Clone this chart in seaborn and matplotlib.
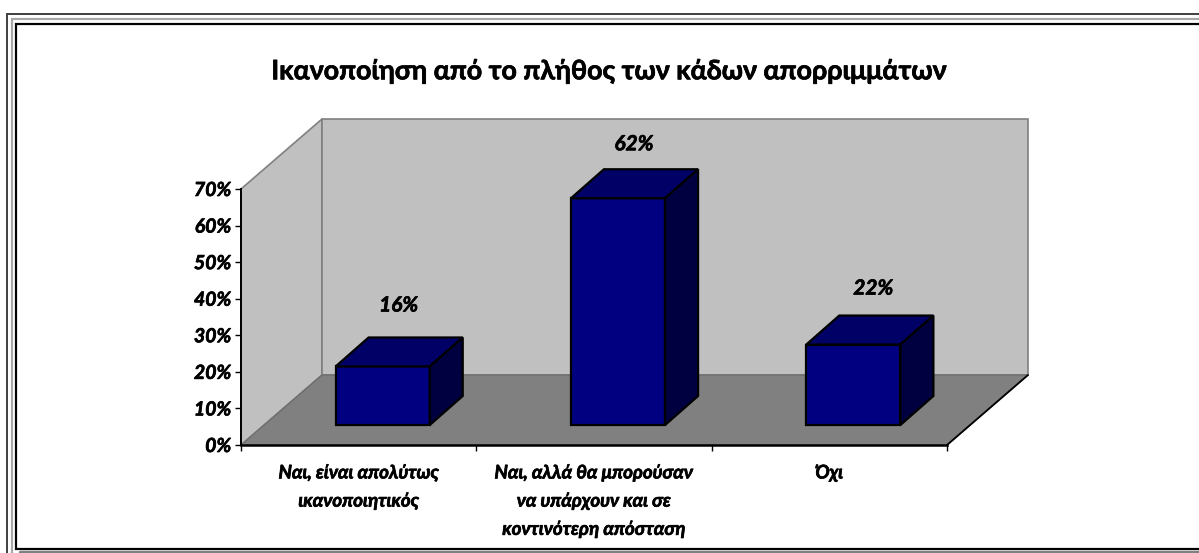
import matplotlib
matplotlib.use("Agg")
import matplotlib.pyplot as plt
import matplotlib.patheffects as pe
import pandas as pd
import seaborn as sns
from matplotlib.lines import Line2D
from matplotlib.patches import Polygon

title = "Ικανοποίηση από το πλήθος των κάδων απορριμμάτων"
categories = [
    "Ναι, είναι απολύτως\nικανοποιητικός",
    "Ναι, αλλά θα μπορούσαν\nνα υπάρχουν και σε\nκοντινότερη απόσταση",
    "Όχι",
]
values = [16, 62, 22]
value_labels = ["16%", "62%", "22%"]
y_ticks = [0, 10, 20, 30, 40, 50, 60, 70]

W, H = 1199, 553
sns.set_theme(style="white")
plt.rcParams["font.family"] = ["Lato", "Open Sans", "DejaVu Sans"]

# the reference type is heavier than Lato Bold
heavy = [pe.withStroke(linewidth=0.5, foreground="black")]

fig = plt.figure(figsize=(W / 100, H / 100), dpi=100, facecolor="white")

# axes box = front plane of the fake 3d chart, in pixels
left, right, top, bottom = 241, 947, 189, 445
ax = fig.add_axes([left / W, 1 - bottom / H, (right - left) / W, (bottom - top) / H])
ax.patch.set_alpha(0)

df = pd.DataFrame({"answer": categories, "share": values})
sns.barplot(data=df, x="answer", y="share", color="#000080", width=0.4,
            saturation=1, edgecolor="black", linewidth=1.6, ax=ax, zorder=3)
ax.set_xlim(-0.5, 2.5)
ax.set_ylim(0, 70)

px_x = 3 / (right - left)
px_y = 70 / (bottom - top)

# walls and floor
wall_dx, wall_dy = 81 * px_x, 70 * px_y
x0, x1 = -0.5, 2.5
ax.add_patch(Polygon([(x0, 0), (x0 + wall_dx, wall_dy), (x0 + wall_dx, 70 + wall_dy), (x0, 70)],
                     fc="#C0C0C0", ec="#808080", lw=1.2, zorder=0, clip_on=False))
ax.add_patch(Polygon([(x0 + wall_dx, wall_dy), (x1 + wall_dx, wall_dy),
                      (x1 + wall_dx, 70 + wall_dy), (x0 + wall_dx, 70 + wall_dy)],
                     fc="#C0C0C0", ec="#808080", lw=1.2, zorder=0, clip_on=False))
ax.add_patch(Polygon([(x0, 0), (x1, 0), (x1 + wall_dx, wall_dy), (x0 + wall_dx, wall_dy)],
                     fc="#808080", ec="#6E6E6E", lw=1, zorder=1, clip_on=False))
ax.plot([x1, x1 + wall_dx], [0, wall_dy], color="black", lw=1.3, zorder=2, clip_on=False)

# move the bars back onto the floor and give them a top and a side
shift_x, shift_y = 24 * px_x, 20 * px_y
depth_x, depth_y = 33 * px_x, 29 * px_y
label_offsets = [(16, 22), (16, 15), (20, 17)]
bars = [p for p in ax.patches if p.get_zorder() == 3]
for bar, val, label, off in zip(bars, values, value_labels, label_offsets):
    bar.set_x(bar.get_x() + shift_x)
    bar.set_y(shift_y)
    bar.set_clip_on(False)
    xa = bar.get_x()
    xb = xa + bar.get_width()
    yb = shift_y + val
    ax.add_patch(Polygon([(xa, yb), (xb, yb), (xb + depth_x, yb + depth_y), (xa + depth_x, yb + depth_y)],
                         fc="#000066", ec="black", lw=1.6, zorder=3, clip_on=False))
    ax.add_patch(Polygon([(xb, shift_y), (xb + depth_x, shift_y + depth_y),
                          (xb + depth_x, yb + depth_y), (xb, yb)],
                         fc="#000040", ec="black", lw=1.6, zorder=3, clip_on=False))
    ax.annotate(label, ((xa + xb) / 2, yb + depth_y), xytext=off, textcoords="offset pixels",
                ha="center", va="bottom", fontsize=15, fontweight="bold", fontstyle="italic",
                color="black", zorder=5, annotation_clip=False, path_effects=heavy)

sns.despine(ax=ax)
ax.spines["left"].set_linewidth(1.4)
ax.spines["bottom"].set_linewidth(1.8)
ax.spines["left"].set_color("black")
ax.spines["bottom"].set_color("black")
for sp in ax.spines.values():
    sp.set_zorder(4)

ax.set_xlabel("")
ax.set_ylabel("")
ax.set_yticks(y_ticks)
ax.set_yticklabels([f"{t}%" for t in y_ticks], fontsize=14, fontweight="bold", fontstyle="italic",
                   path_effects=heavy)
ax.set_xticks(range(len(categories)))
ax.set_xticklabels(categories, fontsize=13.5, fontweight="bold", fontstyle="italic", linespacing=1.8,
                   path_effects=heavy)
ax.set_xticks([-0.5, 0.5, 1.5, 2.5], minor=True)
ax.tick_params(axis="y", left=True, length=4, width=1, color="black", pad=3, labelcolor="black")
ax.tick_params(axis="x", which="major", bottom=False, length=0, pad=14, labelcolor="black")
ax.tick_params(axis="x", which="minor", bottom=True, length=4, width=1, color="black")

fig.text(608 / W, 1 - 71 / H, title, ha="center", va="center", fontsize=19.3,
         fontweight="bold", color="black", path_effects=heavy)


def border(xs, ys, color, lw):
    fig.add_artist(Line2D([x / W for x in xs], [1 - y / H for y in ys], color=color, lw=lw,
                          solid_joinstyle="miter"))


# no right side on the frame, it runs off the picture
border([W + 5, 7, 7], [14, 14, H + 5], "#404040", 1.4)
border([W + 5, 12.5, 12.5], [19, 19, H + 5], "#A8A8A8", 1.6)
border([W + 5, 15.5, 15.5, W + 5], [23.5, 23.5, 549, 549], "black", 1.6)
border([20, W + 5], [552, 552], "#808080", 2.5)

fig.savefig("out.png", dpi=100)
